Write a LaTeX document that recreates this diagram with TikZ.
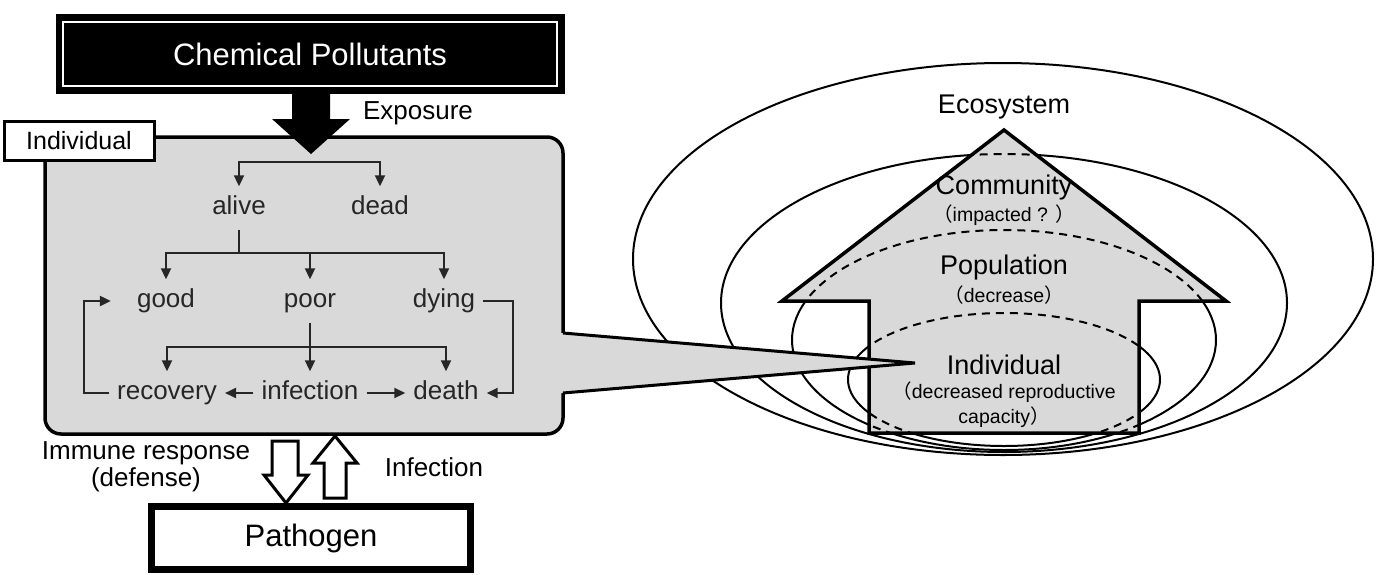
\documentclass[tikz,border=0pt]{standalone}
\usepackage{fontspec}
\setmainfont{Liberation Sans}
\newfontfamily\cjkfont{Noto Sans CJK JP}
\usetikzlibrary{arrows.meta}
\definecolor{boxgrey}{HTML}{D9D9D9}
\definecolor{inkgrey}{HTML}{262626}
\begin{document}
\begin{tikzpicture}[x=1pt,y=-1pt,
  every node/.style={inner sep=0pt, font=\fontsize{26}{28}\selectfont},
  tree/.style={inner xsep=8pt, inner ysep=9pt, text height=19pt, text depth=6pt, text=inkgrey},
  tline/.style={line width=2pt, draw=inkgrey},
  tarrow/.style={tline, -{Triangle[length=11pt,width=10pt]}},
  eline/.style={line width=2pt, draw=black},
  dline/.style={line width=2pt, draw=black, dash pattern=on 8pt off 6pt},
  hline/.style={line width=3.5pt, draw=black, line join=miter},
  hlabel/.style={font=\fontsize{27}{29}\selectfont},
  hsub/.style={font=\fontsize{19.5}{21}\selectfont},
  hollow/.style={line width=3pt, draw=black, fill=white, line join=miter}
]
\useasboundingbox (0,0) rectangle (1382,574);

% ---------- right: levels of organisation ----------
\draw[eline] (1003,259) ellipse [x radius=370pt, y radius=196pt];
\draw[eline] (1004,303) ellipse [x radius=283pt, y radius=149pt];
\draw[eline] (1004,340) ellipse [x radius=212pt, y radius=110pt];
\draw[eline] (1004,379.5) ellipse [x radius=156pt, y radius=66.5pt];

\coordinate (hA) at (1004,130);
\coordinate (hWR) at (1226,301);
\coordinate (hNR) at (1139,301);
\coordinate (hBR) at (1139,433);
\coordinate (hBL) at (869,433);
\coordinate (hNL) at (869,301);
\coordinate (hWL) at (782,301);
\fill[boxgrey] (hA) -- (hWR) -- (hNR) -- (hBR) -- (hBL) -- (hNL) -- (hWL) -- cycle;
\begin{scope}
  \clip (hA) -- (hWR) -- (hNR) -- (hBR) -- (hBL) -- (hNL) -- (hWL) -- cycle;
  \draw[dline] (1004,303) ellipse [x radius=283pt, y radius=149pt];
  \draw[dline] (1004,340) ellipse [x radius=212pt, y radius=110pt];
  \draw[dline] (1004,379.5) ellipse [x radius=156pt, y radius=66.5pt];
\end{scope}
\draw[hline] (hA) -- (hWR) -- (hNR) -- (hBR) -- (hBL) -- (hNL) -- (hWL) -- cycle;

\node[hlabel] (ecosys) at (1004,107) {Ecosystem};
\node[hlabel] (commu) at (1004,188) {Community};
\node[hsub] (commusub) at (1004,215) {{\cjkfont （}impacted ? {\cjkfont ）}};
\node[hlabel] (popu) at (1004,268) {Population};
\node[hsub] (popusub) at (1004,295) {{\cjkfont （}decrease{\cjkfont ）}};
\node[hlabel] (indiv) at (1004,365) {Individual};
\node[hsub] (indivsub1) at (1004,392) {{\cjkfont （}decreased reproductive};
\node[hsub] (indivsub2) at (1004,417) {capacity{\cjkfont ）}};

% ---------- left: individual box ----------
\node[draw=black, line width=3.5pt, fill=boxgrey, rounded corners=16pt,
      minimum width=518pt, minimum height=297pt] (indbox) at (304,285.5) {};

% chemical pollutants
\node[fill=black, text=white, minimum width=509pt, minimum height=80pt,
      font=\fontsize{31}{33}\selectfont] (chem) at (310,54) {Chemical Pollutants};
\draw[white, line width=2pt] ([shift={(8,8)}]chem.north west) rectangle ([shift={(-8,-8)}]chem.south east);
\fill[black] (292,93) -- (330,93) -- (330,119) -- (350,119) -- (311,154) -- (272,119) -- (292,119) -- cycle;
\node (expo) at (418,113) {Exposure};

% tree
\node[tree] (alive) at (239,208) {alive};
\node[tree] (dead) at (380,208) {dead};
\node[tree] (good) at (166,301) {good};
\node[tree] (poor) at (310,301) {poor};
\node[tree] (dying) at (444,301) {dying};
\node[tree] (recovery) at (167,393) {recovery};
\node[tree] (infection) at (310,393) {infection};
\node[tree] (death) at (446,393) {death};

\coordinate (j1) at (311,162);
\draw[tarrow] (j1) -| (alive.north);
\draw[tarrow] (j1) -| (dead.north);
\path (alive.south) ++(0,23) coordinate (j2);
\draw[tline] (alive.south) -- (j2);
\draw[tarrow] (j2) -| (good.north);
\draw[tarrow] (j2) -| (poor.north);
\draw[tarrow] (j2) -| (dying.north);
\path (poor.south) ++(0,24) coordinate (j3);
\draw[tarrow] (poor.south) -- (infection.north);
\draw[tarrow] (j3) -| (recovery.north);
\draw[tarrow] (j3) -| (death.north);
\draw[tarrow] (infection.west) -- (recovery.east);
\draw[tarrow] (infection.east) -- (death.west);
\draw[tarrow] (dying.east) -- ++(30,0) |- (death.east);
\draw[tarrow] (recovery.west) -- ++(-25,0) |- ([xshift=-18pt]good.west);

% callout
\coordinate (cU) at (563,333);
\coordinate (cT) at (915,363);
\coordinate (cL) at (563,393);
\fill[boxgrey] ([xshift=-6pt]cU) -- (cU) -- (cT) -- (cL) -- ([xshift=-6pt]cL) -- cycle;
\draw[line width=3pt, line join=miter] (cU) -- (cT) -- (cL);

% tag
\node[draw=black, line width=3pt, fill=white, minimum width=150pt, minimum height=39pt,
      font=\fontsize{25}{27}\selectfont] (tag) at (79,140.5) {Individual};

% ---------- pathogen ----------
\node[draw=black, line width=6pt, fill=white, minimum width=320pt, minimum height=64pt,
      font=\fontsize{31}{33}\selectfont] (pathogen) at (311,538) {Pathogen};
\draw[line width=1.5pt] ([shift={(6,6)}]pathogen.north west) rectangle ([shift={(-6,-6)}]pathogen.south east);

\draw[hollow] (272,441) -- (298,441) -- (298,475) -- (308,475) -- (286,503) -- (264,475) -- (272,475) -- cycle;
\draw[hollow] (335,436) -- (357,463) -- (346,463) -- (346,498) -- (324,498) -- (324,463) -- (313,463) -- cycle;
\node[align=center, font=\fontsize{26}{27}\selectfont] (immune) at (146,467) {Immune response\\(defense)};
\node (infl) at (434,467) {Infection};
\end{tikzpicture}
\end{document}
